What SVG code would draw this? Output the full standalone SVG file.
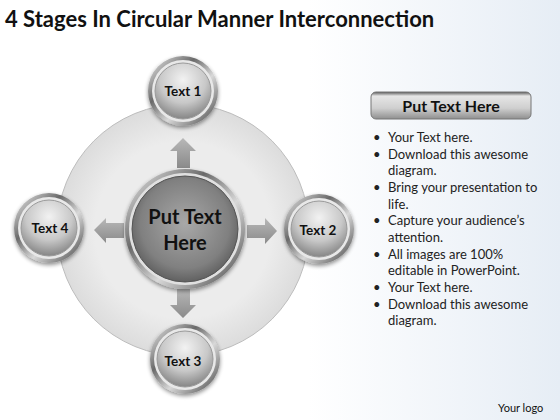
<svg xmlns="http://www.w3.org/2000/svg" width="560" height="420" viewBox="0 0 560 420">
<defs>
<linearGradient id="bg" x1="0" y1="0" x2="1" y2="0">
<stop offset="0.55" stop-color="#ffffff"/>
<stop offset="1" stop-color="#e6edf5"/>
</linearGradient>
<radialGradient id="big" cx="0.5" cy="0.5" r="0.5">
<stop offset="0.7" stop-color="#ececec"/>
<stop offset="1" stop-color="#dcdcdc"/>
</radialGradient>
<linearGradient id="ring" x1="0" y1="0" x2="1" y2="1">
<stop offset="0" stop-color="#f4f4f4"/>
<stop offset="0.35" stop-color="#6a6a6a"/>
<stop offset="0.6" stop-color="#d8d8d8"/>
<stop offset="1" stop-color="#3e3e3e"/>
</linearGradient>
<radialGradient id="sphere" cx="0.5" cy="0.3" r="0.75">
<stop offset="0" stop-color="#f2f2f2"/>
<stop offset="0.55" stop-color="#c8c8c8"/>
<stop offset="1" stop-color="#7a7a7a"/>
</radialGradient>
<radialGradient id="csphere" cx="0.5" cy="0.45" r="0.6">
<stop offset="0" stop-color="#a8a8a8"/>
<stop offset="0.7" stop-color="#808080"/>
<stop offset="1" stop-color="#555555"/>
</radialGradient>
<linearGradient id="arr" x1="0" y1="0" x2="0" y2="1">
<stop offset="0" stop-color="#b8b8b8"/>
<stop offset="1" stop-color="#8a8a8a"/>
</linearGradient>
<linearGradient id="bar" x1="0" y1="0" x2="0" y2="1">
<stop offset="0" stop-color="#5a5a5a"/>
<stop offset="0.15" stop-color="#e6e6e6"/>
<stop offset="0.6" stop-color="#cfcfcf"/>
<stop offset="1" stop-color="#8f8f8f"/>
</linearGradient>
<filter id="sh" x="-20%" y="-20%" width="140%" height="140%">
<feGaussianBlur in="SourceAlpha" stdDeviation="2"/>
<feOffset dy="2"/>
<feComponentTransfer><feFuncA type="linear" slope="0.45"/></feComponentTransfer>
<feMerge><feMergeNode/><feMergeNode in="SourceGraphic"/></feMerge>
</filter>
</defs>
<style>
.t{font-family:Lato,"Liberation Sans",sans-serif;fill:#111;}
.lbl{font-weight:bold;font-size:13.5px;text-anchor:middle;}
.bl{font-size:13px;fill:#222;}
.ring{fill:url(#ring);}
.inner{fill:url(#sphere);stroke:#9a9a9a;stroke-width:1;}
.arrow{fill:url(#arr);}
</style>
<rect width="560" height="420" fill="url(#bg)"/>
<text class="t" x="5" y="27" font-size="22" font-weight="bold">4 Stages In Circular Manner Interconnection</text>

<g id="big-circle">
<circle cx="183" cy="230" r="126" fill="url(#big)" stroke="#bdbdbd" stroke-width="1"/>
</g>

<g id="connectors">
<path class="arrow" d="M183,138 L196,151 L190,151 L190,168 L177,168 L177,151 L170,151 Z"/>
<path class="arrow" d="M183,318 L196,305 L190,305 L190,289 L177,289 L177,305 L170,305 Z"/>
<path class="arrow" d="M94,230 L106,218 L106,223 L124,223 L124,238 L106,238 L106,243 Z"/>
<path class="arrow" d="M277,231 L265,218 L265,225 L247,225 L247,238 L265,238 L265,244 Z"/>
</g>

<g id="center">
<circle cx="185" cy="229" r="60" class="ring" filter="url(#sh)"/>
<circle cx="185" cy="229" r="56" fill="#e0e0e0"/>
<circle cx="185" cy="229" r="53" fill="url(#csphere)" stroke="#555" stroke-width="1"/>
<text class="t" x="185" y="224" font-size="20" font-weight="bold" text-anchor="middle">Put Text</text>
<text class="t" x="185" y="250" font-size="20" font-weight="bold" text-anchor="middle">Here</text>
</g>

<g id="node1">
<circle cx="183" cy="91" r="35" class="ring" filter="url(#sh)"/>
<circle cx="183" cy="91" r="31" fill="#e8e8e8"/>
<circle cx="183" cy="91" r="28" class="inner"/>
<text class="t lbl" x="183" y="96">Text 1</text>
</g>

<g id="node2">
<circle cx="319" cy="229" r="35" class="ring" filter="url(#sh)"/>
<circle cx="319" cy="229" r="31" fill="#e8e8e8"/>
<circle cx="319" cy="229" r="28" class="inner"/>
<text class="t lbl" x="318" y="235">Text 2</text>
</g>

<g id="node3">
<circle cx="185" cy="359" r="35" class="ring" filter="url(#sh)"/>
<circle cx="185" cy="359" r="31" fill="#e8e8e8"/>
<circle cx="185" cy="359" r="28" class="inner"/>
<text class="t lbl" x="183" y="366">Text 3</text>
</g>

<g id="node4">
<circle cx="49" cy="228" r="35" class="ring" filter="url(#sh)"/>
<circle cx="49" cy="228" r="31" fill="#e8e8e8"/>
<circle cx="49" cy="228" r="28" class="inner"/>
<text class="t lbl" x="50" y="233">Text 4</text>
</g>

<g id="panel">
<rect x="371" y="92" width="160" height="27" rx="5" fill="url(#bar)" stroke="#777" stroke-width="1"/>
<text class="t" x="451" y="112" font-size="16" font-weight="bold" text-anchor="middle">Put Text Here</text>
<g class="t bl">
<text x="373" y="142">•</text><text x="388" y="142">Your Text here.</text>
<text x="373" y="159">•</text><text x="388" y="159">Download this awesome</text>
<text x="388" y="175">diagram.</text>
<text x="373" y="192">•</text><text x="388" y="192">Bring your presentation to</text>
<text x="388" y="209">life.</text>
<text x="373" y="225">•</text><text x="388" y="225">Capture your audience’s</text>
<text x="388" y="242">attention.</text>
<text x="373" y="259">•</text><text x="388" y="259">All images are 100%</text>
<text x="388" y="275">editable in PowerPoint.</text>
<text x="373" y="292">•</text><text x="388" y="292">Your Text here.</text>
<text x="373" y="309">•</text><text x="388" y="309">Download this awesome</text>
<text x="388" y="325">diagram.</text>
</g>
<text class="t" x="498" y="412" font-size="11" fill="#333">Your logo</text>
</g>
</svg>
